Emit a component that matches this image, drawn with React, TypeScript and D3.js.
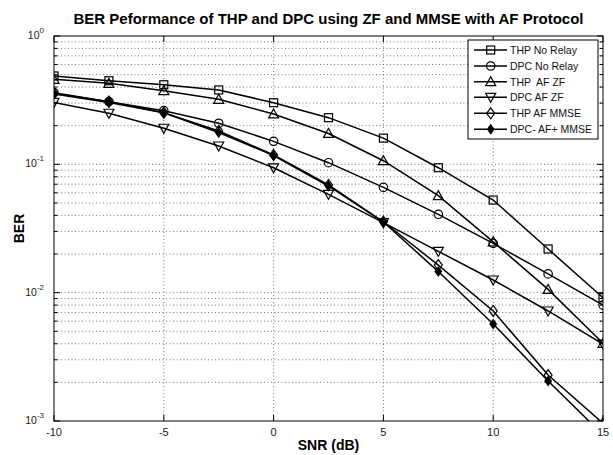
import React from "react";
import * as d3 from "d3";

const snr = [-10, -7.5, -5, -2.5, 0, 2.5, 5, 7.5, 10, 12.5, 15];
const thpNoRelay = [0.488, 0.448, 0.417, 0.38, 0.302, 0.231, 0.16, 0.0941, 0.0527, 0.0219, 0.00913];
const dpcNoRelay = [0.362, 0.308, 0.262, 0.209, 0.151, 0.103, 0.0662, 0.0408, 0.0242, 0.014, 0.008];
const thpAfZf = [0.46, 0.428, 0.375, 0.321, 0.247, 0.174, 0.1067, 0.057, 0.0249, 0.0106, 0.00403];
const dpcAfZf = [0.304, 0.25, 0.191, 0.139, 0.094, 0.0584, 0.0351, 0.021, 0.01255, 0.0072, 0.00398];
const thpAfMmse = [0.358, 0.308, 0.2525, 0.182, 0.1182, 0.069, 0.0357, 0.0164, 0.0072, 0.00228, 0.00096];
const dpcAfMmse = [0.353, 0.303, 0.2525, 0.177, 0.1172, 0.0678, 0.0355, 0.0146, 0.0057, 0.00205, 0.00078];

const seriesNames = ["THP No Relay", "DPC No Relay", "THP  AF ZF", "DPC AF ZF", "THP AF MMSE", "DPC- AF+ MMSE"];
const seriesValues = [thpNoRelay, dpcNoRelay, thpAfZf, dpcAfZf, thpAfMmse, dpcAfMmse];
const markerKinds = ["square", "circle", "triUp", "triDown", "diamond", "diamondFilled"];

const xTicks = [-10, -5, 0, 5, 10, 15];
const yDecades = [0, -1, -2, -3];

const W = 613, H = 455;
const L = 54, R = 603, T = 36, B = 421;

function Marker({ kind, x, y }: { kind: string; x: number; y: number }) {
  const s = 4;
  const common = { stroke: "#000", strokeWidth: 1.2, fill: "none" };
  if (kind === "square") return <rect x={x - s} y={y - s} width={2 * s} height={2 * s} {...common} />;
  if (kind === "circle") return <circle cx={x} cy={y} r={4.2} {...common} />;
  if (kind === "triUp") return <path d={`M${x},${y - 5} L${x + 5},${y + 4} L${x - 5},${y + 4} Z`} {...common} />;
  if (kind === "triDown") return <path d={`M${x},${y + 5} L${x + 5},${y - 4} L${x - 5},${y - 4} Z`} {...common} />;
  if (kind === "diamond") return <path d={`M${x},${y - 5.5} L${x + 4},${y} L${x},${y + 5.5} L${x - 4},${y} Z`} {...common} />;
  return <path d={`M${x},${y - 4.5} L${x + 3.2},${y} L${x},${y + 4.5} L${x - 3.2},${y} Z`} stroke="#000" strokeWidth={1.2} fill="#000" />;
}

export default function App() {
  const x = d3.scaleLinear().domain([-10, 15]).range([L, R]);
  const y = d3.scaleLog().domain([1e-3, 1]).range([B, T]);
  const line = d3.line<number>().x((_, i) => x(snr[i])).y((v) => y(v));

  const minor: number[] = [];
  for (let e = -3; e < 0; e++) for (let m = 1; m <= 9; m++) minor.push(m * Math.pow(10, e));
  minor.push(1);

  const legX = 468, legY = 40, legW = 130, legH = 99;
  const rowY = [50, 66, 81.7, 97.3, 113.3, 129.3];

  return (
    <svg width={W} height={H} style={{ position: "absolute", left: 0, top: 0, background: "#fff" }} fontFamily="Liberation Sans, Arial, sans-serif">
      <defs>
        <clipPath id="plotclip">
          <rect x={L} y={T} width={R - L} height={B - T} />
        </clipPath>
      </defs>
      <rect x={0} y={0} width={W} height={H} fill="#fff" />
      <g stroke="#555" strokeWidth={0.8} strokeDasharray="1,2.5">
        {minor.filter((v) => v > 1e-3 && v < 1).map((v, i) => (
          <line key={"gy" + i} x1={L} x2={R} y1={y(v)} y2={y(v)} />
        ))}
        {xTicks.filter((t) => t > -10 && t < 15).map((t) => (
          <line key={"gx" + t} x1={x(t)} x2={x(t)} y1={T} y2={B} />
        ))}
      </g>
      <g stroke="#000" strokeWidth={1}>
        {minor.map((v, i) => {
          const isMajor = Math.abs(Math.log10(v) - Math.round(Math.log10(v))) < 1e-9;
          const len = isMajor ? 6 : 3.5;
          return (
            <g key={"ty" + i}>
              <line x1={L} x2={L + len} y1={y(v)} y2={y(v)} />
              <line x1={R} x2={R - len} y1={y(v)} y2={y(v)} />
            </g>
          );
        })}
        {xTicks.map((t) => (
          <g key={"tx" + t}>
            <line x1={x(t)} x2={x(t)} y1={B} y2={B - 6} />
            <line x1={x(t)} x2={x(t)} y1={T} y2={T + 6} />
          </g>
        ))}
      </g>
      <g clipPath="url(#plotclip)">
        {seriesValues.map((vals, si) => (
          <path key={"l" + si} d={line(vals) || ""} fill="none" stroke="#000" strokeWidth={1.5} />
        ))}
        {seriesValues.map((vals, si) =>
          vals.map((v, i) => <Marker key={"m" + si + "_" + i} kind={markerKinds[si]} x={x(snr[i])} y={y(v)} />)
        )}
      </g>
      <rect x={L} y={T} width={R - L} height={B - T} fill="none" stroke="#000" strokeWidth={1} />
      {xTicks.map((t) => (
        <text key={"xl" + t} x={x(t)} y={436} textAnchor="middle" fontSize={11} fill="#222">
          {String(t)}
        </text>
      ))}
      {yDecades.map((e) => (
        <text key={"yl" + e} x={44} y={y(Math.pow(10, e)) + 3} textAnchor="end" fontSize={10.5} fill="#222">
          10
          <tspan dy={-6} fontSize={8}>{String(e)}</tspan>
        </text>
      ))}
      <text x={(L + R) / 2} y={24} textAnchor="middle" fontSize={15} fontWeight="bold" fill="#000">
        BER Peformance of THP and DPC using ZF and MMSE with AF Protocol
      </text>
      <text x={(L + R) / 2} y={450} textAnchor="middle" fontSize={14} fontWeight="bold" fill="#000">
        SNR (dB)
      </text>
      <text transform={`translate(24,${(T + B) / 2}) rotate(-90)`} textAnchor="middle" fontSize={14} fontWeight="bold" fill="#000">
        BER
      </text>
      <rect x={legX} y={legY} width={legW} height={legH} fill="#fff" stroke="#000" strokeWidth={1} />
      {seriesNames.map((n, i) => (
        <g key={"lg" + i}>
          <line x1={474} x2={507} y1={rowY[i]} y2={rowY[i]} stroke="#000" strokeWidth={1.5} />
          <Marker kind={markerKinds[i]} x={490.7} y={rowY[i]} />
          <text x={510} y={rowY[i] + 3.8} fontSize={10.5} fill="#111" style={{ whiteSpace: "pre" }}>
            {n}
          </text>
        </g>
      ))}
    </svg>
  );
}
